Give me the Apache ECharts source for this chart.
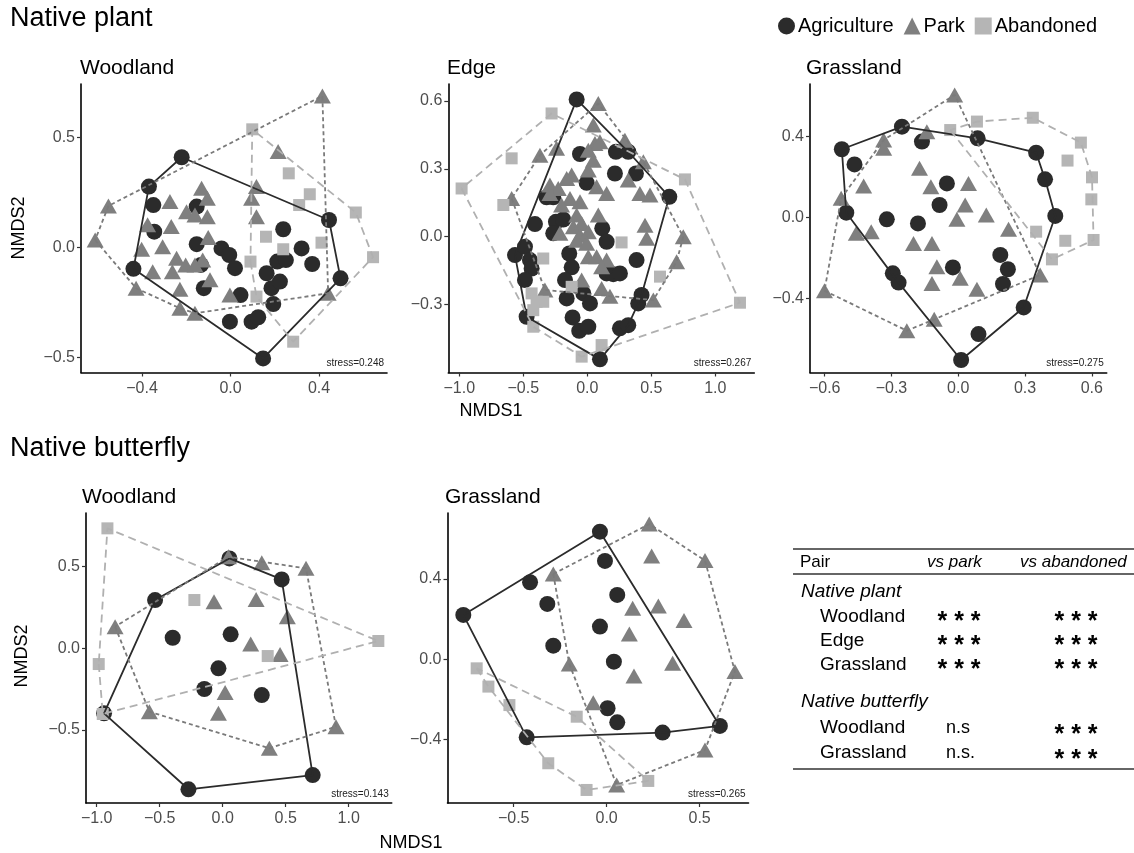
<!DOCTYPE html>
<html><head><meta charset="utf-8">
<script src="https://cdn.jsdelivr.net/npm/echarts@6/dist/echarts.min.js"></script>
<style>html,body{margin:0;padding:0;background:#fff}#c{width:1134px;height:853px}</style>
</head><body><div id="c"></div>
<script>
// ---------------- DATA ----------------
const groupNames = ['Agriculture', 'Park', 'Abandoned'];
const panelTitles = ['Woodland', 'Edge', 'Grassland', 'Woodland', 'Grassland'];
const stressLabels = ['stress=0.248', 'stress=0.267', 'stress=0.275', 'stress=0.143', 'stress=0.265'];
const xTicks = [[-0.4, 0, 0.4], [-1, -0.5, 0, 0.5, 1], [-0.6, -0.3, 0, 0.3, 0.6], [-1, -0.5, 0, 0.5, 1], [-0.5, 0, 0.5]];
const yTicks = [[-0.5, 0, 0.5], [-0.6, -0.3, 0, 0.3, 0.6], [-0.4, 0, 0.4], [-0.5, 0, 0.5], [-0.4, 0, 0.4]];

// Native plant - Woodland
const plantWoodAgri = [[-0.221,0.409],[-0.369,0.276],[-0.349,0.192],[-0.153,0.185],[-0.345,0.071],[-0.439,-0.098],[-0.153,0.014],[-0.041,-0.005],[-0.006,-0.035],[-0.134,-0.080],[0.020,-0.095],[-0.121,-0.186],[0.045,-0.217],[-0.003,-0.338],[0.095,-0.338],[0.125,-0.318],[0.147,-0.505],[0.163,-0.118],[0.185,-0.186],[0.223,-0.156],[0.193,-0.258],[0.211,-0.065],[0.250,-0.058],[0.238,0.082],[0.321,-0.005],[0.369,-0.076],[0.445,0.124],[0.497,-0.141]];
const plantWoodPark = [[0.415,0.688],[0.215,0.435],[0.117,0.276],[0.095,0.223],[0.117,0.139],[-0.552,0.188],[-0.612,0.033],[-0.427,-0.186],[-0.229,-0.277],[-0.161,-0.300],[-0.003,-0.217],[0.441,-0.209],[-0.131,0.268],[-0.105,0.223],[-0.274,0.208],[-0.199,0.162],[-0.161,0.147],[-0.105,0.139],[-0.375,0.102],[-0.268,0.094],[-0.402,-0.009],[-0.307,0.003],[-0.101,0.045],[-0.244,-0.050],[-0.203,-0.080],[-0.126,-0.058],[-0.352,-0.111],[-0.263,-0.111],[-0.161,-0.080],[-0.093,-0.148],[-0.229,-0.191]];
const plantWoodAband = [[0.098,0.536],[0.263,0.336],[0.358,0.241],[0.310,0.192],[0.566,0.158],[0.644,-0.045],[0.160,0.048],[0.238,-0.009],[0.411,0.021],[0.090,-0.065],[0.117,-0.224],[0.283,-0.429]];

// Native plant - Edge
const plantEdgeAgri = [[-0.083,0.606],[-0.057,0.365],[0.224,0.375],[0.320,0.375],[0.216,0.279],[0.380,0.279],[-0.005,0.238],[0.641,0.176],[-0.318,0.174],[-0.266,0.174],[-0.409,0.056],[-0.245,0.066],[-0.188,0.076],[-0.266,0.015],[0.117,0.037],[0.151,-0.022],[-0.565,-0.081],[-0.487,-0.044],[-0.448,-0.103],[-0.435,-0.140],[-0.487,-0.191],[-0.141,-0.074],[-0.122,-0.135],[-0.174,-0.191],[0.151,-0.162],[0.203,-0.165],[0.255,-0.162],[0.385,-0.103],[-0.161,-0.272],[-0.031,-0.250],[0.021,-0.294],[-0.115,-0.356],[-0.063,-0.415],[0.008,-0.397],[0.398,-0.294],[0.424,-0.257],[0.255,-0.404],[0.320,-0.390],[-0.474,-0.353],[0.099,-0.541]];
const plantEdgePark = [[0.086,0.588],[0.047,0.493],[0.294,0.426],[-0.240,0.390],[-0.370,0.360],[0.060,0.412],[0.008,0.382],[0.099,0.419],[0.047,0.338],[0.438,0.331],[-0.122,0.272],[-0.161,0.257],[-0.292,0.228],[-0.227,0.213],[0.008,0.294],[0.073,0.221],[0.320,0.250],[0.411,0.191],[0.490,0.184],[-0.591,0.169],[-0.292,0.191],[-0.135,0.169],[-0.057,0.154],[0.151,0.191],[-0.201,0.140],[0.086,0.096],[-0.083,0.096],[-0.109,0.044],[-0.044,0.059],[-0.057,0.007],[0.008,0.022],[-0.083,-0.015],[-0.005,-0.029],[0.451,0.051],[0.464,-0.007],[0.750,0.000],[0.698,-0.110],[0.008,-0.088],[0.073,-0.088],[0.151,-0.103],[0.112,-0.132],[-0.044,-0.191],[0.112,-0.228],[0.177,-0.262],[0.516,-0.279],[-0.331,-0.235],[-0.214,0.015]];
const plantEdgeAband = [[-0.279,0.544],[-0.591,0.346],[-0.982,0.213],[-0.656,0.140],[0.763,0.253],[0.268,-0.025],[-0.344,-0.096],[-0.435,-0.250],[-0.396,-0.287],[-0.344,-0.287],[-0.422,-0.324],[-0.122,-0.221],[-0.422,-0.397],[0.568,-0.176],[1.193,-0.291],[0.112,-0.478],[-0.044,-0.529]];

// Native plant - Grassland
const plantGrassAgri = [[-0.253,0.449],[-0.523,0.337],[-0.466,0.262],[-0.163,0.375],[0.087,0.391],[0.350,0.320],[0.390,0.188],[0.436,0.007],[-0.051,0.168],[-0.084,0.061],[-0.321,-0.010],[-0.181,-0.030],[-0.503,0.023],[-0.024,-0.248],[0.189,-0.186],[0.223,-0.257],[0.201,-0.330],[-0.294,-0.277],[-0.268,-0.323],[0.294,-0.446],[0.091,-0.578],[0.013,-0.706]];
const plantGrassPark = [[-0.016,0.606],[-0.335,0.383],[-0.335,0.342],[-0.141,0.424],[-0.174,0.243],[-0.425,0.155],[-0.123,0.152],[0.046,0.168],[-0.526,0.094],[0.031,0.061],[0.126,0.012],[-0.006,-0.010],[-0.458,-0.079],[-0.391,-0.071],[-0.201,-0.129],[-0.118,-0.129],[0.226,-0.059],[-0.096,-0.244],[0.009,-0.302],[-0.118,-0.327],[0.084,-0.356],[0.368,-0.285],[-0.601,-0.363],[-0.231,-0.561],[-0.108,-0.505]];
const plantGrassAband = [[-0.036,0.432],[0.084,0.474],[0.335,0.493],[0.551,0.370],[0.491,0.281],[0.601,0.198],[0.598,0.089],[0.608,-0.112],[0.481,-0.116],[0.350,-0.071],[0.421,-0.208]];

// Native butterfly - Woodland
const flyWoodAgri = [[0.053,0.551],[0.468,0.422],[-0.537,0.296],[-0.397,0.065],[0.063,0.086],[-0.034,-0.122],[-0.146,-0.249],[0.310,-0.286],[-0.942,-0.398],[0.714,-0.776],[-0.272,-0.863]];
const flyWoodPark = [[0.045,0.561],[0.310,0.524],[0.661,0.490],[-0.069,0.286],[0.265,0.300],[0.513,0.194],[-0.854,0.133],[0.222,0.027],[0.455,-0.037],[0.019,-0.271],[-0.034,-0.398],[-0.582,-0.388],[0.370,-0.612],[0.899,-0.480]];
const flyWoodAband = [[-0.915,0.735],[-0.225,0.296],[0.357,-0.047],[1.235,0.045],[-0.984,-0.096],[-0.952,-0.402]];

// Native butterfly - Grassland
const flyGrassAgri = [[-0.036,0.636],[-0.009,0.490],[-0.412,0.384],[-0.319,0.276],[0.057,0.321],[-0.036,0.163],[-0.287,0.068],[0.039,-0.012],[-0.771,0.221],[0.005,-0.244],[0.057,-0.314],[-0.430,-0.389],[0.301,-0.365],[0.609,-0.332]];
const flyGrassPark = [[0.229,0.674],[0.242,0.515],[0.529,0.492],[-0.287,0.425],[0.140,0.254],[0.278,0.266],[0.416,0.193],[0.122,0.126],[-0.201,-0.023],[0.355,-0.020],[0.147,-0.083],[0.690,-0.061],[-0.072,-0.216],[0.529,-0.452],[0.054,-0.626]];
const flyGrassAband = [[-0.699,-0.045],[-0.636,-0.136],[-0.523,-0.228],[-0.161,-0.286],[-0.314,-0.518],[-0.108,-0.651],[0.224,-0.606]];

// Table
const tableHeader = ['Pair', 'vs park', 'vs abandoned'];
const tablePlantRows = [['Woodland', '***', '***'], ['Edge', '***', '***'], ['Grassland', '***', '***']];
const tableFlyRows = [['Woodland', 'n.s', '***'], ['Grassland', 'n.s.', '***']];

// ---------------- LAYOUT ----------------
const panelData = [
  [plantWoodAgri, plantWoodPark, plantWoodAband],
  [plantEdgeAgri, plantEdgePark, plantEdgeAband],
  [plantGrassAgri, plantGrassPark, plantGrassAband],
  [flyWoodAgri, flyWoodPark, flyWoodAband],
  [flyGrassAgri, flyGrassPark, flyGrassAband]
];
const layout = [
  {left: 81, top: 84, width: 306, height: 288.5, xr: [-0.676, 0.707], yr: [-0.569, 0.742]},
  {left: 448.3, top: 84, width: 306, height: 288.5, xr: [-1.086, 1.305], yr: [-0.599, 0.674]},
  {left: 810, top: 84, width: 296.7, height: 288.5, xr: [-0.666, 0.667], yr: [-0.768, 0.660]},
  {left: 86, top: 513, width: 305.7, height: 290, xr: [-1.085, 1.341], yr: [-0.947, 0.829]},
  {left: 447.5, top: 513, width: 301, height: 290, xr: [-0.856, 0.763], yr: [-0.716, 0.729]}
];
const FONT = '"Liberation Sans", Arial, Helvetica, sans-serif';
const colors = ['#2b2b2b', '#7f7f7f', '#b5b5b5'];
const lineColors = ['#2b2b2b', '#7a7a7a', '#b0b0b0'];
const lineTypes = ['solid', [4, 3], [8, 5]];
const symbols = ['circle', 'triangle', 'rect'];
const symbolSizes = [16, [17, 15], 12];

function fmt(v) {
  const s = Math.abs(v).toFixed(1);
  return (v < -1e-9 ? '\u2212' : '') + s;
}
function hull(pts) {
  const p = pts.slice().sort((a, b) => a[0] - b[0] || a[1] - b[1]);
  const cross = (o, a, b) => (a[0] - o[0]) * (b[1] - o[1]) - (a[1] - o[1]) * (b[0] - o[0]);
  const lower = [];
  for (const q of p) { while (lower.length >= 2 && cross(lower[lower.length - 2], lower[lower.length - 1], q) <= 0) lower.pop(); lower.push(q); }
  const upper = [];
  for (let i = p.length - 1; i >= 0; i--) { const q = p[i]; while (upper.length >= 2 && cross(upper[upper.length - 2], upper[upper.length - 1], q) <= 0) upper.pop(); upper.push(q); }
  upper.pop(); lower.pop();
  const h = lower.concat(upper); h.push(h[0]);
  return h;
}

const grid = [], xAxis = [], yAxis = [], series = [];
layout.forEach((L, i) => {
  grid.push({left: L.left, top: L.top, width: L.width, height: L.height, containLabel: false, outerBoundsMode: 'none'});
  const axisCommon = {
    type: 'value',
    axisLine: {show: true, onZero: false, lineStyle: {color: '#000', width: 1.6}},
    axisTick: {show: true, length: 4, lineStyle: {color: '#333', width: 1.2}},
    splitLine: {show: false},
    axisLabel: {color: '#4d4d4d', fontSize: 16, fontFamily: FONT, formatter: fmt}
  };
  xAxis.push(Object.assign({}, axisCommon, {
    gridIndex: i, min: L.xr[0], max: L.xr[1], position: 'bottom',
    axisTick: Object.assign({}, axisCommon.axisTick, {customValues: xTicks[i]}),
    axisLabel: Object.assign({}, axisCommon.axisLabel, {customValues: xTicks[i], margin: 8, showMinLabel: true, showMaxLabel: true})
  }));
  yAxis.push(Object.assign({}, axisCommon, {
    gridIndex: i, min: L.yr[0], max: L.yr[1], position: 'left',
    axisTick: Object.assign({}, axisCommon.axisTick, {customValues: yTicks[i]}),
    axisLabel: Object.assign({}, axisCommon.axisLabel, {customValues: yTicks[i], margin: 6})
  }));
  panelData[i].forEach((pts, g) => {
    series.push({
      type: 'scatter', name: groupNames[g], xAxisIndex: i, yAxisIndex: i,
      data: pts, symbol: symbols[g], symbolSize: symbolSizes[g],
      itemStyle: {color: colors[g], opacity: 1}, z: 2, silent: true
    });
  });
  panelData[i].forEach((pts, g) => {
    series.push({
      type: 'line', name: groupNames[g] + ' hull', xAxisIndex: i, yAxisIndex: i,
      data: hull(pts), symbol: 'none', showSymbol: false, smooth: false,
      lineStyle: {color: lineColors[g], width: 1.8, type: lineTypes[g]},
      z: 3, silent: true
    });
  });
});

const graphic = [];
function txt(text, x, y, opt) {
  graphic.push({type: 'text', silent: true, style: Object.assign({
    text: text, x: x, y: y, fill: '#000', font: '18px ' + FONT, textAlign: 'left', textVerticalAlign: 'middle'
  }, opt || {})});
}
function stars(x, y) {
  txt('* * *', x, y, {font: 'bold 25px ' + FONT, textAlign: 'center'});
}
// section titles
txt('Native plant', 10, 19, {font: '27px ' + FONT});
txt('Native butterfly', 10, 449, {font: '27px ' + FONT});
// panel titles
const titlePos = [[80, 68], [447, 68], [806, 68], [82, 497], [445, 497]];
panelTitles.forEach((t, i) => txt(t, titlePos[i][0], titlePos[i][1], {font: '21px ' + FONT}));
// stress labels
layout.forEach((L, i) => txt(stressLabels[i], L.left + L.width - 3, L.top + L.height - 9, {font: '10px ' + FONT, textAlign: 'right', fill: '#222'}));
// axis names
graphic.push({type: 'text', x: 19, y: 228, rotation: Math.PI / 2, silent: true, style: {text: 'NMDS2', x: 0, y: 0, fill: '#000', font: '18px ' + FONT, textAlign: 'center', textVerticalAlign: 'middle'}});
graphic.push({type: 'text', x: 22, y: 656, rotation: Math.PI / 2, silent: true, style: {text: 'NMDS2', x: 0, y: 0, fill: '#000', font: '18px ' + FONT, textAlign: 'center', textVerticalAlign: 'middle'}});
txt('NMDS1', 491, 411, {textAlign: 'center'});
txt('NMDS1', 411, 843, {textAlign: 'center'});

// table
const tl = {x1: 793, x2: 1134};
[549, 574, 769].forEach(y => graphic.push({type: 'line', silent: true, shape: {x1: tl.x1, y1: y, x2: tl.x2, y2: y}, style: {stroke: '#333', lineWidth: 1.3}}));
txt(tableHeader[0], 800, 562, {font: '17px ' + FONT});
txt(tableHeader[1], 927, 562, {font: 'italic 17px ' + FONT});
txt(tableHeader[2], 1020, 562, {font: 'italic 17px ' + FONT});
txt('Native plant', 801, 592, {font: 'italic 19px ' + FONT});
const plantY = [617, 641, 665];
tablePlantRows.forEach((r, k) => {
  txt(r[0], 820, plantY[k], {font: '19px ' + FONT});
  stars(959, plantY[k] + 5);
  stars(1076, plantY[k] + 5);
});
txt('Native butterfly', 801, 702, {font: 'italic 19px ' + FONT});
const flyY = [728, 753];
tableFlyRows.forEach((r, k) => {
  txt(r[0], 820, flyY[k], {font: '19px ' + FONT});
  txt(r[1], 946, flyY[k], {font: '18px ' + FONT});
  stars(1076, flyY[k] + 7);
});

const chart = echarts.init(document.getElementById('c'), null, {renderer: 'canvas'});
chart.setOption({
  animation: false,
  backgroundColor: '#fff',
  legend: {
    data: [{name: 'Agriculture', icon: 'circle'}, {name: 'Park', icon: 'triangle'}, {name: 'Abandoned', icon: 'rect'}],
    left: 773, top: 11, itemWidth: 17, itemHeight: 17, itemGap: 10,
    textStyle: {fontSize: 20, fontFamily: FONT, color: '#000', padding: [0, 0, 0, -2]},
    selectedMode: false
  },
  grid: grid, xAxis: xAxis, yAxis: yAxis, series: series, graphic: graphic
});
</script></body></html>
